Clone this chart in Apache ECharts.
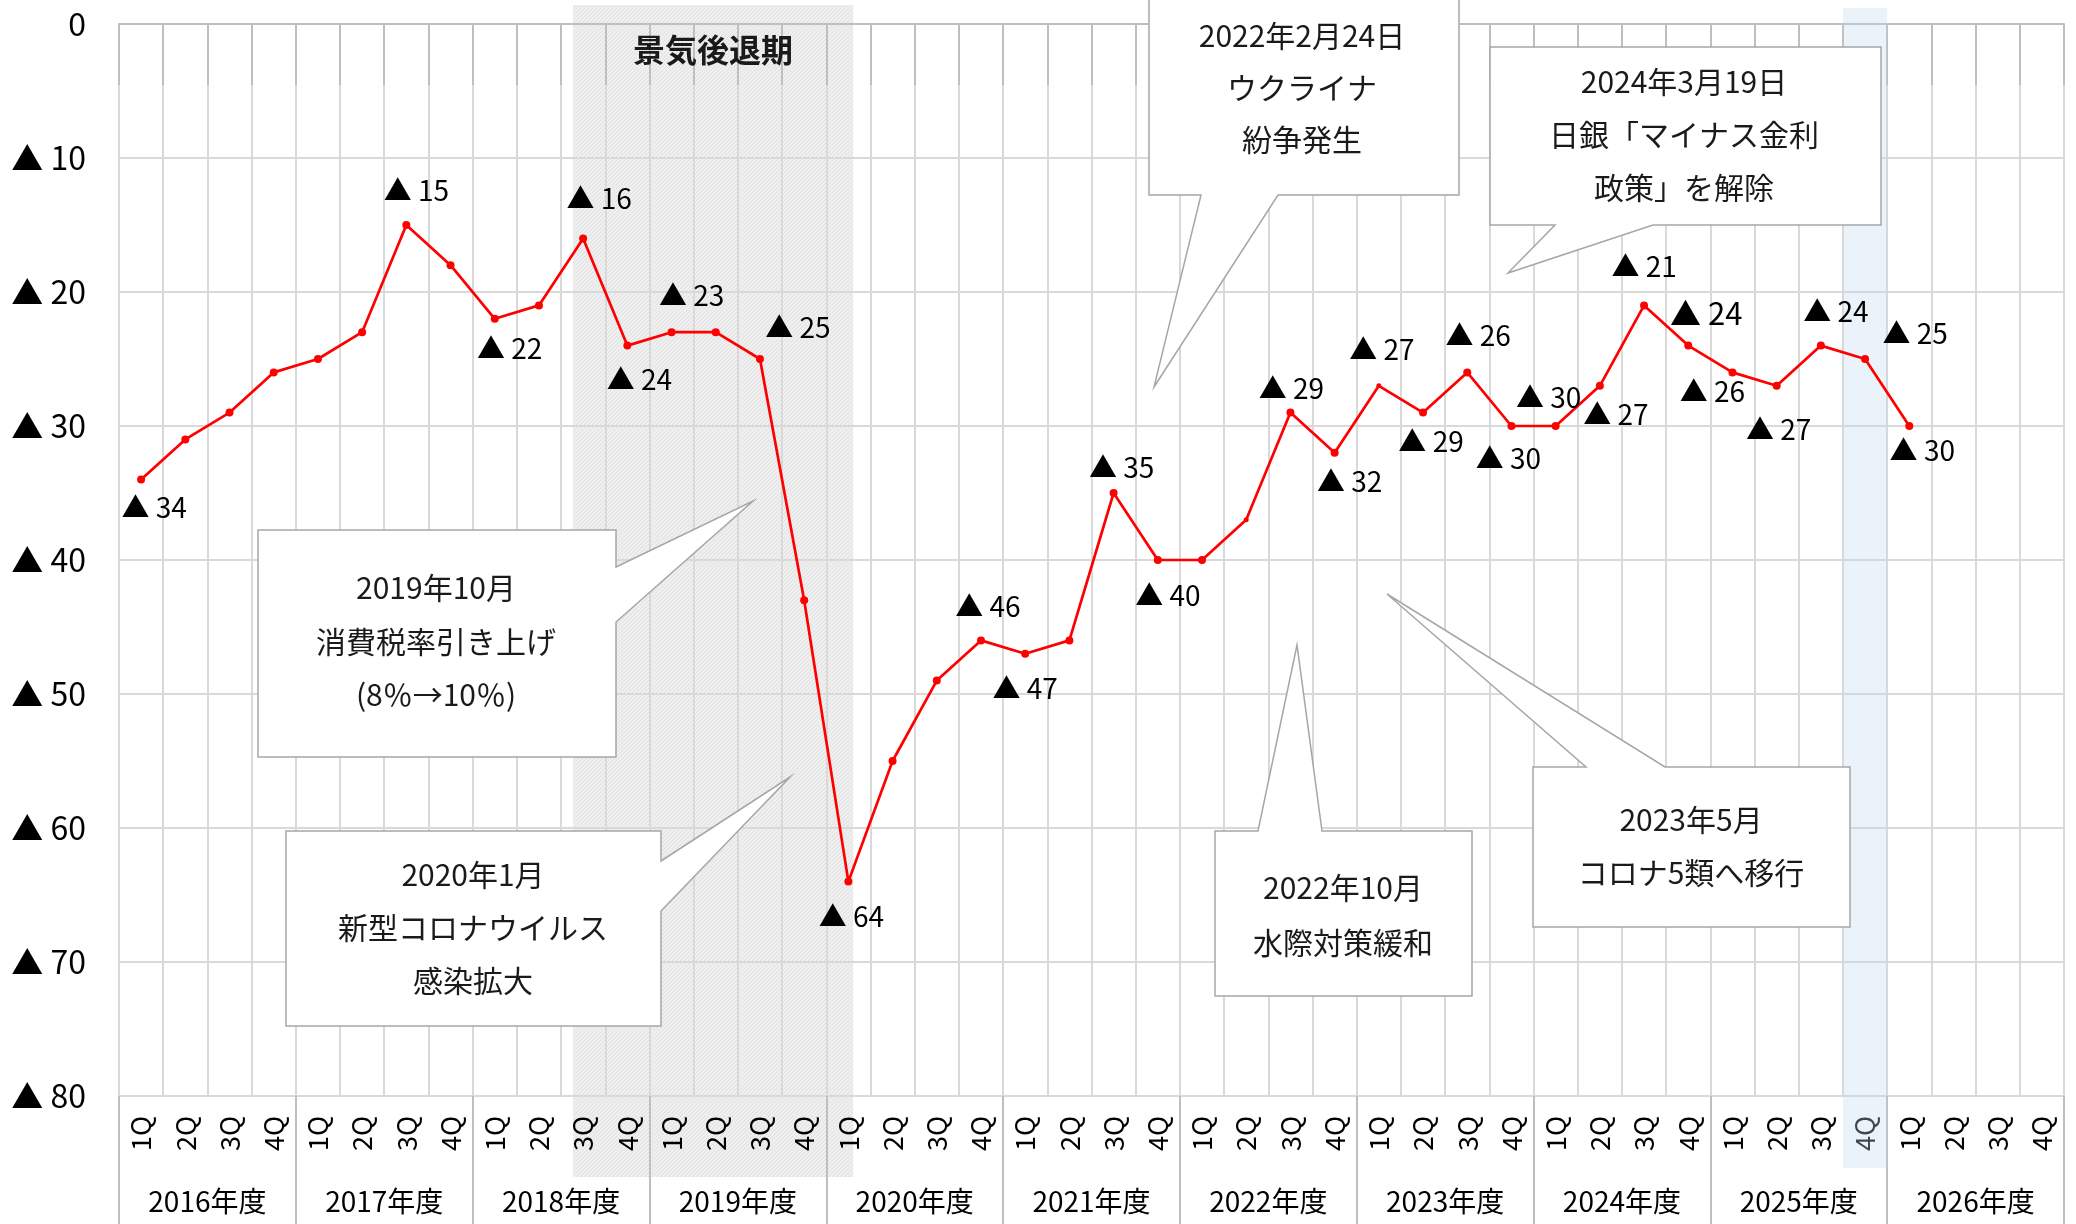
<!DOCTYPE html>
<html>
<head>
<meta charset="utf-8">
<script src="https://cdn.jsdelivr.net/npm/echarts@6/dist/echarts.min.js"></script>
<style>
  html, body { margin: 0; padding: 0; background: #fff; }
  #chart { width: 2076px; height: 1224px; }
</style>
</head>
<body>
<div id="chart"></div>
<script>
// ---------------- data ----------------
const quarterLabels = [
  '1Q','2Q','3Q','4Q','1Q','2Q','3Q','4Q','1Q','2Q','3Q','4Q',
  '1Q','2Q','3Q','4Q','1Q','2Q','3Q','4Q','1Q','2Q','3Q','4Q',
  '1Q','2Q','3Q','4Q','1Q','2Q','3Q','4Q','1Q','2Q','3Q','4Q',
  '1Q','2Q','3Q','4Q','1Q','2Q','3Q','4Q'
];
const fiscalYears = ['2016年度','2017年度','2018年度','2019年度','2020年度','2021年度',
                     '2022年度','2023年度','2024年度','2025年度','2026年度'];
// DI (▲ = minus), one value per quarter
const diValues = [
  -34, -31, -29, -26,
  -25, -23, -15, -18,
  -22, -21, -16, -24,
  -23, -23, -25, -43,
  -64, -55, -49, -46,
  -47, -46, -35, -40,
  -40, -37, -29, -32,
  -27, -29, -26, -30,
  -30, -27, -21, -24,
  -26, -27, -24, -25,
  -30, null, null, null
];
const yMin = -80, yMax = 0, yStep = 10;

// which points carry a value label, and where it sits relative to the point (px)
const labelOffsets = {
  0: [13, 28], 6: [10, -35], 8: [15, 30], 10: [16, -40], 11: [12, 34],
  12: [20, -37], 14: [38, -32], 16: [3, 35], 19: [7, -34], 20: [0, 35],
  22: [8, -26], 23: [10, 35], 26: [1, -24], 27: [15, 29], 28: [3, -36],
  29: [8, 29], 30: [11, -37], 31: [-3, 32], 32: [-7, -29], 33: [16, 29],
  34: [0, -39], 35: [18, -32], 36: [-20, 19], 37: [2, 44], 38: [15, -34],
  39: [50, -26], 40: [13, 24]
};
const bigLabels = [35];
const smallMarkers = [25, 28];

// shaded periods in category-index units
const recessionBand = { from: 9.77, to: 16.11, label: '景気後退期' };
const latestBand = { from: 38.5, to: 39.5 };

// callouts
const callouts = [
  { lines: ['2019年10月', '消費税率引き上げ', '(8％→10％)'],
    poly: [[258,530],[616,530],[616,567],[753,501],[616,622],[616,757],[258,757]],
    cx: 436, ys: [588, 642, 695] },
  { lines: ['2020年1月', '新型コロナウイルス', '感染拡大'],
    poly: [[286,831],[661,831],[661,861],[790,777],[661,911],[661,1026],[286,1026]],
    cx: 473, ys: [875, 928, 981] },
  { lines: ['2022年2月24日', 'ウクライナ', '紛争発生'],
    poly: [[1149,-5],[1459,-5],[1459,195],[1278,195],[1154,387],[1201,195],[1149,195]],
    cx: 1302, ys: [36, 88, 140] },
  { lines: ['2024年3月19日', '日銀「マイナス金利', '政策」を解除'],
    poly: [[1490,47],[1881,47],[1881,225],[1653,225],[1508,273],[1555,225],[1490,225]],
    cx: 1684, ys: [82, 135, 188] },
  { lines: ['2022年10月', '水際対策緩和'],
    poly: [[1215,831],[1258,831],[1297,645],[1322,831],[1472,831],[1472,996],[1215,996]],
    cx: 1343, ys: [888, 943] },
  { lines: ['2023年5月', 'コロナ5類へ移行'],
    poly: [[1533,767],[1586,767],[1387,594],[1665,767],[1850,767],[1850,927],[1533,927]],
    cx: 1691, ys: [820, 873] }
];

// ---------------- chart ----------------
const FONT = '"Noto Sans CJK JP", "Noto Sans", sans-serif';
const GRID_COLOR = '#d9d9d9';
const AXIS_COLOR = '#bfbfbf';

const seriesData = diValues.map((v, i) => {
  const item = { value: v };
  if (smallMarkers.includes(i)) item.symbolSize = 5;
  if (labelOffsets[i] && v !== null) {
    item.label = {
      show: true,
      position: 'inside',
      align: 'center',
      verticalAlign: 'middle',
      offset: labelOffsets[i],
      fontSize: bigLabels.includes(i) ? 31 : 28
    };
  }
  return item;
});

const chart = echarts.init(document.getElementById('chart'), null, { renderer: 'canvas' });

chart.setOption({
  animation: false,
  backgroundColor: '#ffffff',
  textStyle: { fontFamily: FONT },
  grid: { left: 119, right: 12, top: 24, bottom: 128, containLabel: false },
  xAxis: [
    {
      type: 'category',
      data: quarterLabels,
      boundaryGap: true,
      position: 'bottom',
      axisLine: { show: true, lineStyle: { color: AXIS_COLOR, width: 2 } },
      axisTick: { show: true, interval: 0, length: 61, lineStyle: { color: AXIS_COLOR, width: 2 } },
      axisLabel: { interval: 0, rotate: 90, margin: 20, fontSize: 27, color: '#000', fontFamily: FONT },
      splitLine: { show: true, interval: 0, lineStyle: { color: GRID_COLOR, width: 2 } }
    },
    {
      type: 'category',
      data: fiscalYears,
      boundaryGap: true,
      position: 'bottom',
      axisLine: { show: false },
      axisTick: { show: true, interval: 0, length: 130, lineStyle: { color: AXIS_COLOR, width: 2 } },
      axisLabel: { interval: 0, margin: 91, fontSize: 28, color: '#000', fontFamily: FONT },
      splitLine: { show: false }
    }
  ],
  yAxis: {
    type: 'value',
    min: yMin,
    max: yMax,
    interval: yStep,
    axisLine: { show: false },
    axisTick: { show: false },
    axisLabel: {
      margin: 33,
      fontSize: 32,
      color: '#000',
      fontFamily: FONT,
      formatter: v => (v === 0 ? '0' : '▲ ' + (-v))
    },
    splitLine: { show: true, lineStyle: { color: GRID_COLOR, width: 2 } }
  },
  series: [
    {
      type: 'line',
      xAxisIndex: 0,
      data: seriesData,
      symbol: 'circle',
      symbolSize: 8,
      showSymbol: true,
      connectNulls: false,
      itemStyle: { color: '#ff0000' },
      lineStyle: { color: '#ff0000', width: 2.7 },
      label: {
        show: false,
        color: '#000',
        fontFamily: FONT,
        formatter: p => '▲ ' + (-p.value)
      },
      z: 3
    }
  ]
});

// ---------------- overlays ----------------
function bandPixels(band) {
  const x0 = chart.convertToPixel({ xAxisIndex: 0 }, 0);
  const x1 = chart.convertToPixel({ xAxisIndex: 0 }, 1);
  const step = x1 - x0;
  return [x0 + band.from * step, x0 + band.to * step];
}

// fine mesh pattern for the recession band
const pat = document.createElement('canvas');
pat.width = 4; pat.height = 4;
const pctx = pat.getContext('2d');
pctx.fillStyle = '#efefef';
pctx.fillRect(0, 0, 4, 4);
pctx.fillStyle = '#dcdcdc';
pctx.fillRect(0, 0, 1, 1);
pctx.fillRect(2, 2, 1, 1);
pctx.fillStyle = '#e4e4e4';
pctx.fillRect(1, 3, 1, 1);
pctx.fillRect(3, 1, 1, 1);

const [rx0, rx1] = bandPixels(recessionBand);
const [bx0, bx1] = bandPixels(latestBand);

const graphics = [
  {
    type: 'rect', z: -10, silent: true,
    shape: { x: rx0, y: 5, width: rx1 - rx0, height: 1177 - 5 },
    style: { fill: { image: pat, repeat: 'repeat' } }
  },
  {
    type: 'text', z: 20, silent: true,
    style: {
      x: (rx0 + rx1) / 2, y: 50, text: recessionBand.label,
      font: 'bold 32px ' + FONT, fill: '#1a1a1a',
      textAlign: 'center', textVerticalAlign: 'middle'
    }
  },
  {
    type: 'rect', z: 2, silent: true,
    shape: { x: bx0, y: 8, width: bx1 - bx0, height: 1168 - 8 },
    style: { fill: 'rgba(189,215,238,0.32)' }
  }
];

callouts.forEach(c => {
  graphics.push({
    type: 'polygon', z: 30, silent: true,
    shape: { points: c.poly },
    style: { fill: '#ffffff', stroke: '#a6a6a6', lineWidth: 1.5 }
  });
  c.lines.forEach((t, k) => {
    graphics.push({
      type: 'text', z: 31, silent: true,
      style: {
        x: c.cx, y: c.ys[k], text: t,
        font: '30px ' + FONT, fill: '#1a1a1a',
        textAlign: 'center', textVerticalAlign: 'middle'
      }
    });
  });
});

chart.setOption({ graphic: graphics });
</script>
</body>
</html>
